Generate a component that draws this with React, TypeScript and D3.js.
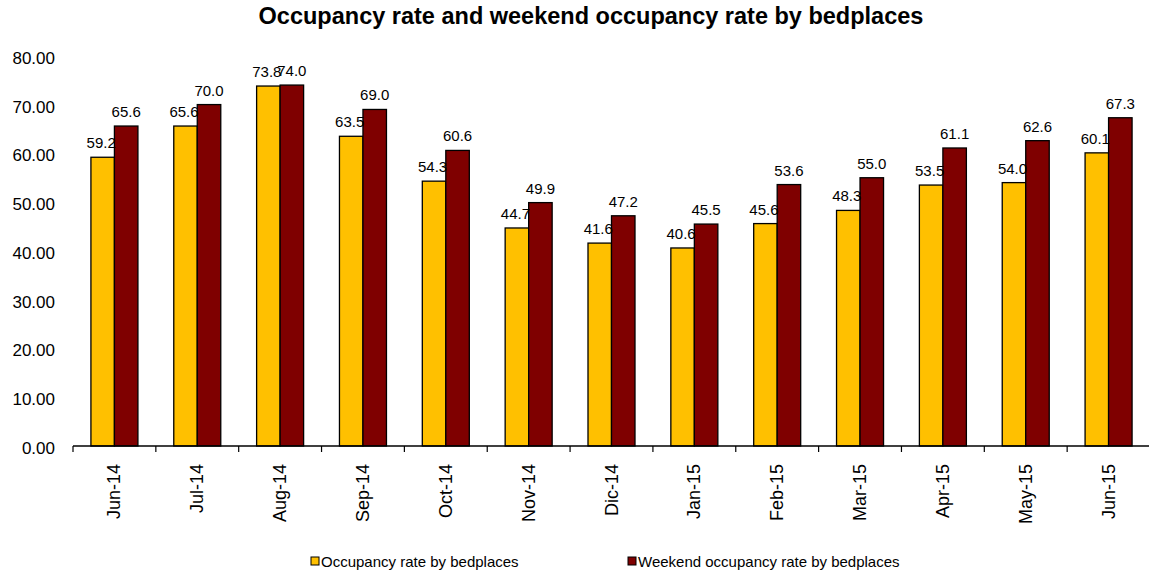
import React from "react";
import * as d3 from "d3";

const categories = ["Jun-14", "Jul-14", "Aug-14", "Sep-14", "Oct-14", "Nov-14", "Dic-14", "Jan-15", "Feb-15", "Mar-15", "Apr-15", "May-15", "Jun-15"];
const occupancy = [59.2, 65.6, 73.8, 63.5, 54.3, 44.7, 41.6, 40.6, 45.6, 48.3, 53.5, 54.0, 60.1];
const weekend = [65.6, 70.0, 74.0, 69.0, 60.6, 49.9, 47.2, 45.5, 53.6, 55.0, 61.1, 62.6, 67.3];
const yTicks = [0, 10, 20, 30, 40, 50, 60, 70, 80];
const seriesNames = ["Occupancy rate by bedplaces", "Weekend occupancy rate by bedplaces"];
const colors = ["#FFC000", "#7F0000"];

const W = 1149;
const H = 573;
const FONT = "'Liberation Sans', Arial, sans-serif";

export default function App() {
  const x = d3.scaleBand<string>().domain(categories).range([73, 1150]).paddingInner(0).paddingOuter(0);
  const inner = d3.scaleBand<number>().domain([0, 1]).range([0, 47]);
  const y = d3.scaleLinear().domain([0, 80]).range([446, 55.8]);
  const series = [occupancy, weekend];
  const bw = x.bandwidth();
  const groupOffset = (bw - 47) / 2;
  const boundaries = categories.map((c) => x(c) as number);

  return (
    <svg width={W} height={H} style={{ display: "block", position: "absolute", left: 0, top: 0 }} fontFamily={FONT}>
      <rect width={W} height={H} fill="#fff" />
      <text x={591} y={24} textAnchor="middle" fontSize={23.5} fontWeight="bold" fill="#000">
        Occupancy rate and weekend occupancy rate by bedplaces
      </text>
      {yTicks.map((t) => (
        <text key={t} x={55} y={y(t) + 2.5} textAnchor="end" dominantBaseline="central" fontSize={17} fill="#000">
          {t.toFixed(2)}
        </text>
      ))}
      {series.map((vals, si) =>
        vals.map((v, i) => {
          const bx = (x(categories[i]) as number) + groupOffset + (inner(si) as number);
          return (
            <rect key={`${si}-${i}`} x={bx} y={y(v)} width={inner.bandwidth()} height={y(0) - y(v)} fill={colors[si]} stroke="#000" strokeWidth={1.3} />
          );
        })
      )}
      {series.map((vals, si) =>
        vals.map((v, i) => {
          const bx = (x(categories[i]) as number) + groupOffset + (inner(si) as number) + inner.bandwidth() / 2 - (si === 0 ? 1.5 : 0);
          return (
            <text key={`l${si}-${i}`} x={bx} y={y(v) - 9} textAnchor="middle" fontSize={15} fill="#000">
              {v.toFixed(1)}
            </text>
          );
        })
      )}
      <line x1={73} x2={1150} y1={y(0)} y2={y(0)} stroke="#000" strokeWidth={1.5} />
      {boundaries.map((bx, i) => (
        <line key={`t${i}`} x1={bx} x2={bx} y1={y(0)} y2={y(0) + 6} stroke="#000" strokeWidth={1.2} />
      ))}
      {categories.map((c) => {
        const cx = (x(c) as number) + bw / 2;
        return (
          <text key={c} transform={`translate(${cx},464) rotate(-90)`} textAnchor="end" dominantBaseline="central" fontSize={18} fill="#000">
            {c}
          </text>
        );
      })}
      {seriesNames.map((n, i) => {
        const lx = i === 0 ? 311 : 628;
        return (
          <g key={n}>
            <rect x={lx} y={557} width={8} height={8} fill={colors[i]} stroke="#000" strokeWidth={1} />
            <text x={lx + 10} y={567} fontSize={15} fill="#000">{n}</text>
          </g>
        );
      })}
    </svg>
  );
}
